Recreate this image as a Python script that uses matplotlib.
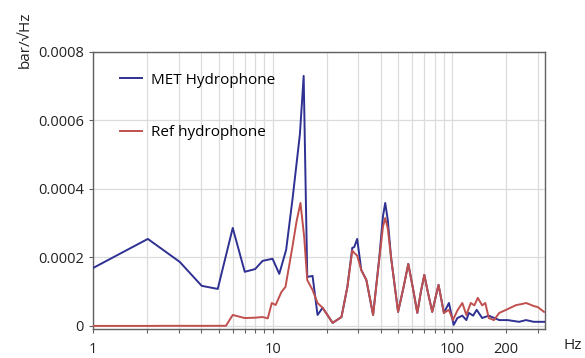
import numpy as np
import matplotlib.pyplot as plt
from matplotlib.ticker import FixedLocator, NullFormatter, FixedFormatter

plt.rcParams['font.family'] = ['Open Sans', 'DejaVu Sans']

met_f = [1.0, 2.02, 3.04, 4.03, 4.95, 6.0, 7.0, 8.0, 8.8, 10.0, 10.9, 11.9, 12.9, 14.2, 14.9,
         15.6, 16.7, 17.8, 19.0, 20.2, 21.6, 24.2, 26.1, 27.8, 28.5, 29.6, 31.2, 33.3, 36.3,
         39.3, 41.2, 42.4, 43.8, 45.7, 50.0, 53.5, 57.0, 60.5, 64.0, 67.0, 70.0, 73.5, 77.5,
         81.0, 84.0, 90.0, 96.0, 102, 107, 114, 120, 124, 131, 137, 147, 160, 183, 204,
         236, 258, 285, 325]
met_v = [1.69e-4, 2.54e-4, 1.87e-4, 1.17e-4, 1.08e-4, 2.86e-4, 1.58e-4, 1.66e-4, 1.90e-4,
         1.96e-4, 1.52e-4, 2.22e-4, 3.68e-4, 5.60e-4, 7.30e-4,
         1.43e-4, 1.46e-4, 0.32e-4, 0.53e-4, 0.32e-4, 0.09e-4, 0.26e-4, 1.14e-4, 2.28e-4,
         2.30e-4, 2.54e-4, 1.63e-4, 1.34e-4, 0.32e-4, 2.00e-4, 3.20e-4, 3.59e-4, 3.10e-4,
         2.00e-4, 0.41e-4, 1.10e-4, 1.81e-4, 1.10e-4, 0.38e-4, 1.00e-4, 1.49e-4, 0.95e-4,
         0.41e-4, 0.85e-4, 1.20e-4, 0.38e-4, 0.67e-4, 0.03e-4, 0.23e-4, 0.30e-4, 0.17e-4,
         0.38e-4, 0.30e-4, 0.47e-4, 0.23e-4, 0.30e-4, 0.17e-4, 0.17e-4, 0.12e-4, 0.17e-4,
         0.12e-4, 0.12e-4]

ref_f = [1.0, 2.0, 2.5, 3.0, 4.0, 5.5, 6.0, 7.0, 8.0, 8.8, 9.4, 9.9, 10.4, 11.2, 11.8,
         12.9, 13.6, 14.3, 15.0, 15.6, 16.7, 17.8, 19.0, 20.2, 21.6, 24.2, 26.1, 27.8,
         28.3, 29.6, 31.2, 33.3, 36.3, 39.3, 41.2, 42.4, 43.8, 45.7, 50.0, 53.5, 57.0,
         60.5, 64.0, 67.0, 70.0, 73.5, 77.5, 81.0, 84.0, 90.0, 96.0, 101, 107, 114, 120,
         127, 133, 139, 147, 153, 160, 171, 183, 200, 215, 228, 245, 258, 270, 285, 300,
         325]
ref_v = [0.0, 0.0, 0.03e-5, 0.03e-5, 0.02e-5, 0.04e-5, 0.32e-4, 0.23e-4, 0.24e-4, 0.26e-4,
         0.22e-4, 0.67e-4, 0.61e-4, 0.99e-4, 1.14e-4, 2.31e-4, 3.05e-4, 3.59e-4, 2.60e-4,
         1.34e-4, 1.05e-4, 0.67e-4, 0.53e-4, 0.32e-4, 0.09e-4, 0.26e-4, 1.14e-4, 2.20e-4,
         2.15e-4, 2.05e-4, 1.63e-4, 1.34e-4, 0.32e-4, 1.95e-4, 2.90e-4, 3.15e-4, 2.85e-4,
         2.00e-4, 0.41e-4, 1.10e-4, 1.81e-4, 1.10e-4, 0.38e-4, 1.00e-4, 1.49e-4, 0.95e-4,
         0.41e-4, 0.85e-4, 1.20e-4, 0.38e-4, 0.47e-4, 0.17e-4, 0.45e-4, 0.67e-4, 0.32e-4,
         0.67e-4, 0.60e-4, 0.82e-4, 0.60e-4, 0.67e-4, 0.23e-4, 0.17e-4, 0.38e-4, 0.47e-4,
         0.55e-4, 0.61e-4, 0.64e-4, 0.67e-4, 0.63e-4, 0.58e-4, 0.55e-4, 0.41e-4]

y_ticks = [0, 0.0002, 0.0004, 0.0006, 0.0008]
y_labels = ['0', '0.0002', '0.0004', '0.0006', '0.0008']
x_major = [1, 10, 100, 200]
x_minor = [2, 3, 4, 5, 6, 7, 8, 9, 20, 30, 40, 50, 60, 70, 80, 90, 300]

fig = plt.figure(figsize=(5.85, 3.58), dpi=100)
ax = fig.add_axes([0.159, 0.081, 0.773, 0.774])

ax.plot(met_f, met_v, color='#2e3192', lw=1.4, label='MET Hydrophone', zorder=3)
ax.plot(ref_f, ref_v, color='#c0504d', lw=1.4, label='Ref hydrophone', zorder=3)

ax.set_xscale('log')
ax.set_xlim(1, 330)
ax.set_ylim(-0.000009, 0.0008)
ax.xaxis.set_major_locator(FixedLocator(x_major))
ax.xaxis.set_major_formatter(FixedFormatter([str(v) for v in x_major]))
ax.xaxis.set_minor_locator(FixedLocator(x_minor))
ax.xaxis.set_minor_formatter(NullFormatter())
ax.set_yticks(y_ticks)
ax.set_yticklabels(y_labels)

ax.grid(True, which='both', axis='x', color='#dcdcdc', lw=0.9)
ax.grid(True, which='major', axis='y', color='#dcdcdc', lw=0.9)
ax.set_axisbelow(True)

for s in ax.spines.values():
    s.set_color('#606060')
    s.set_linewidth(1.0)
ax.tick_params(which='both', colors='#606060', labelcolor='#222222', labelsize=10.5,
               length=3, width=0.8)
ax.tick_params(axis='x', which='both', pad=6)

ax.text(1.04, -0.06, 'Hz', transform=ax.transAxes, fontsize=11, color='#222222',
        ha='left', va='center')
fig.text(0.043, 0.89, 'bar/√Hz', rotation=90, fontsize=11, color='#222222',
         ha='center', va='center')

ax.legend(loc='upper left', bbox_to_anchor=(0.03, 0.975), frameon=False, fontsize=11,
          labelspacing=2.45, handlelength=1.4, handletextpad=0.6)

fig.savefig('out.png', dpi=100)
